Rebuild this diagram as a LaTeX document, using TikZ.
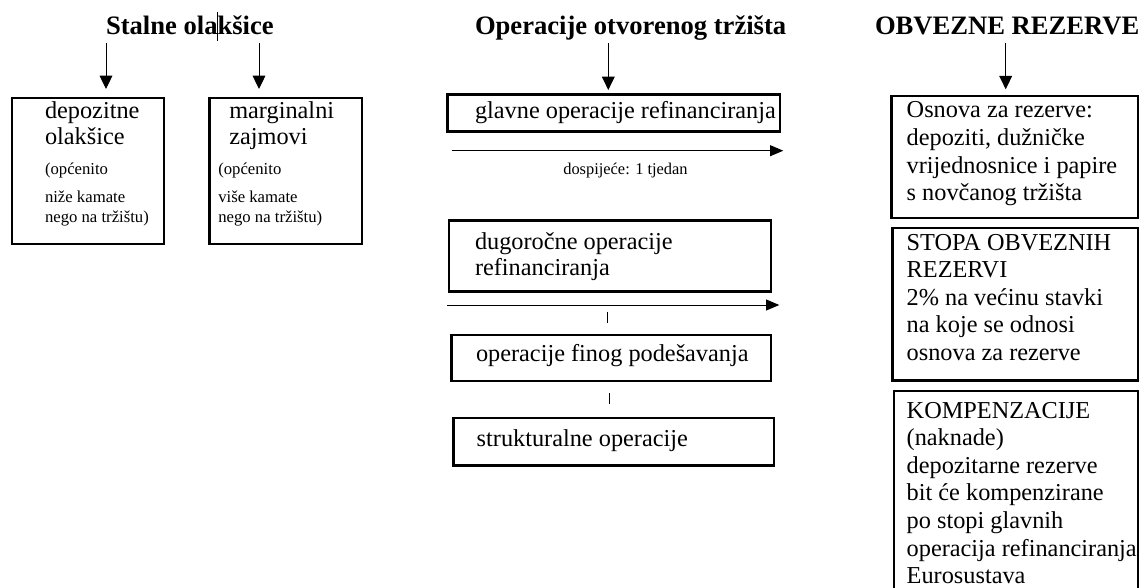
\documentclass[tikz,border=0pt]{standalone}
\usepackage{fontspec}
\setmainfont{Liberation Serif}
\usetikzlibrary{arrows.meta}
\newcommand\bigfont{\fontsize{24.3}{27.6}\selectfont}
\newcommand\leftfont{\fontsize{24.3}{26}\selectfont}
\newcommand\midfont{\fontsize{24.3}{26.5}\selectfont}
\newcommand\smallfont{\fontsize{16.7}{20}\selectfont}
\newcommand\labelfont{\fontsize{16.4}{20}\selectfont}
\newcommand\titlefont{\fontsize{26.6}{30}\selectfont\bfseries}
\newcommand\rows[1]{\begin{tabular}[t]{@{}l@{}}#1\end{tabular}}
\begin{document}
\begin{tikzpicture}[x=1pt,y=-1pt,
  box/.style={draw, line width=2.4pt, outer sep=0pt, inner sep=0pt, anchor=north west},
  txt/.style={anchor=base west, inner sep=0pt, outer sep=0pt},
  ttl/.style={anchor=base west, inner sep=0pt, outer sep=0pt, text depth=0pt, font=\titlefont},
  arr/.style={line width=1pt, -{Triangle[length=13.3pt,width=12.7pt]}},
  tline/.style={line width=1pt, -{Triangle[length=13.3pt,width=11pt]}},
  tick/.style={line width=1pt},
  cursorline/.style={line width=0.9pt}]
\useasboundingbox[fill=white] (0,0) rectangle (1140,588);

% titles
\node[ttl] (t1) at (106,35) {Stalne olakšice};
\node[ttl] (t2) at (475,35) {Operacije otvorenog tržišta};
\node[ttl] (t3) at (875,35) {OBVEZNE REZERVE};
\coordinate (cur1) at (217.5,12);
\coordinate (cur2) at (217.5,40.7);
\draw[cursorline] (cur1) -- (cur2);

% left boxes
\node[box, minimum width=152pt, minimum height=146pt] (b1) at (12,98) {};
\node[box, minimum width=152.5pt, minimum height=146pt] (b2) at (209.5,98) {};
\node[txt, font=\leftfont] (b1t) at (45,119) {\rows{depozitne\\olakšice}};
\node[txt, font=\smallfont] (b1s) at (45,175) {\rows{(općenito\\[7.7pt]niže kamate\\nego na tržištu)}};
\node[txt, font=\leftfont] (b2t) at (229.3,119) {\rows{marginalni\\zajmovi}};
\node[txt, font=\smallfont] (b2s) at (218.3,175) {\rows{(općenito\\[7.7pt]više kamate\\nego na tržištu)}};

% middle boxes
\node[box, minimum width=332.4pt, minimum height=37pt] (g) at (447.3,94.5) {};
\node[box, minimum width=321.7pt, minimum height=71pt] (dug) at (449,220.3) {};
\node[box, minimum width=319.4pt, minimum height=46pt] (fin) at (451.3,334.7) {};
\node[box, minimum width=320.7pt, minimum height=47.3pt] (str) at (453.3,418) {};
\node[txt, font=\midfont] (gt) at (475,119) {glavne operacije refinanciranja};
\node[txt, font=\midfont] (dugt) at (475,249) {\rows{dugoročne operacije\\refinanciranja}};
\node[txt, font=\midfont] (fint) at (476,361) {operacije finog podešavanja};
\node[txt, font=\midfont] (strt) at (476.7,446) {strukturalne operacije};
\node[txt, font=\labelfont] (lab) at (563.3,175) {dospijeće: 1 tjedan};

% right boxes
\node[box, minimum width=246.7pt, minimum height=121.7pt] (osn) at (891.3,96.3) {};
\node[box, minimum width=245.7pt, minimum height=152.3pt] (sto) at (892.3,228) {};
\node[box, minimum width=244pt, minimum height=240pt] (kom) at (894,390.7) {};
\node[txt, font=\bigfont] (osnt) at (906.7,118) {\rows{Osnova za rezerve:\\depoziti, dužničke\\vrijednosnice i papire\\s novčanog tržišta}};
\node[txt, font=\bigfont] (stot) at (906.7,250) {\rows{STOPA OBVEZNIH\\REZERVI\\2\% na većinu stavki\\na koje se odnosi\\osnova za rezerve}};
\node[txt, font=\bigfont] (komt) at (906.7,418) {\rows{KOMPENZACIJE\\(naknade)\\depozitarne rezerve\\bit će kompenzirane\\po stopi glavnih\\operacija refinanciranja\\Eurosustava}};

% arrows from titles
\coordinate (x1) at (106,0);
\coordinate (x2) at (259,0);
\coordinate (x3) at (608.3,0);
\coordinate (x4) at (1005.7,0);
\draw[arr, shorten <=8pt, shorten >=9pt] (t1.south -| x1) -- (b1.north -| x1);
\draw[arr, shorten <=8pt, shorten >=9pt] (t1.south -| x2) -- (b2.north -| x2);
\draw[arr, shorten <=8pt, shorten >=4.5pt] (t2.south -| x3) -- (g.north -| x3);
\draw[arr, shorten <=8pt, shorten >=7pt] (t3.south -| x4) -- (osn.north -| x4);

% time lines
\coordinate (tl1s) at (451.7,150.7);
\coordinate (tl1e) at (783.3,150.7);
\coordinate (tl2s) at (447.3,305);
\coordinate (tl2e) at (779.3,305);
\draw[tline] (tl1s) -- (tl1e);
\draw[tline] (tl2s) -- (tl2e);

% ticks
\coordinate (k1a) at (607.3,311.7);
\coordinate (k1b) at (607.3,322.7);
\coordinate (k2a) at (609,393.3);
\coordinate (k2b) at (609,404);
\draw[tick] (k1a) -- (k1b);
\draw[tick] (k2a) -- (k2b);
\end{tikzpicture}
\end{document}
